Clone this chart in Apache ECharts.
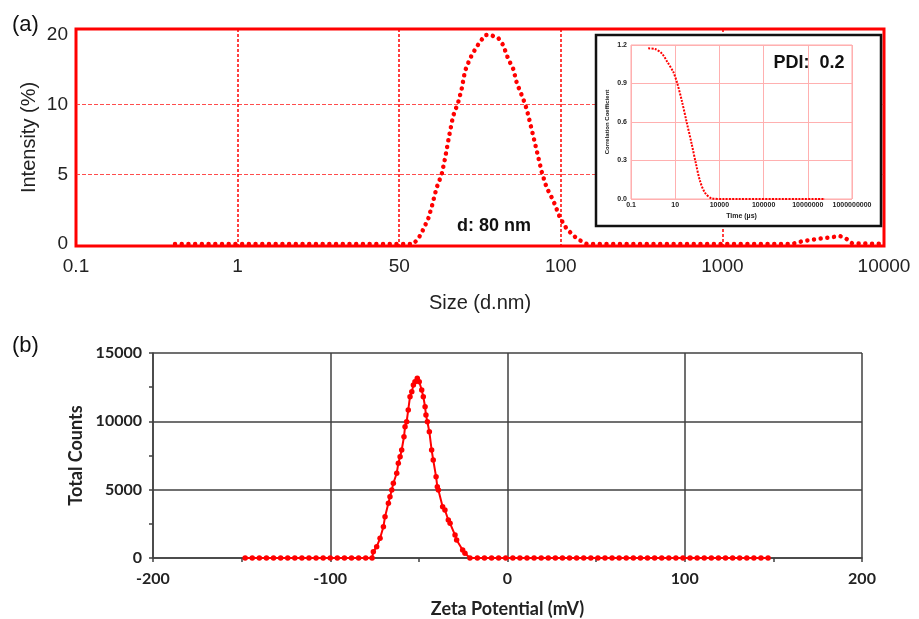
<!DOCTYPE html>
<html>
<head>
<meta charset="utf-8">
<script src="https://cdn.jsdelivr.net/npm/echarts@6/dist/echarts.min.js"></script>
<style>
  html, body { margin: 0; padding: 0; background: #fff; }
  #chart { width: 919px; height: 619px; }
</style>
</head>
<body>
<div id="chart"></div>
<script>
// (a) size distribution - axis is drawn with evenly spaced, irregular breaks
const sizeBreaks = [0.1, 1, 50, 100, 1000, 10000]
const intensityBreaks = [0, 5, 10, 20]
const sizeNm = [0.41, 53.1, 54.3, 55.5, 56.7, 57.7, 58.7, 60.0, 60.9, 61.9, 63.0, 64.4, 65.4, 66.3, 67.3, 68.2, 69.7, 72.2, 73.8,
  76.5, 78.1, 79.8, 81.6, 82.8, 85.1, 86.4, 88.3, 90.2, 92.1, 94.1, 96.8, 99.7, 108.8, 125.4, 144.6,
  2696, 3153, 4018, 4834, 5341, 5821, 6339, 10000]
const intensity = [0, 0, 0.39, 1.08, 1.87, 2.90, 4.04, 5.0, 6.19, 7.69, 9.18, 10.34, 12.34, 14.82, 16.07, 17.06, 18.31, 19.96, 20.05,
  19.55, 18.55, 16.57, 15.07, 13.09, 10.85, 9.68, 8.19, 6.69, 5.20, 4.04, 3.13, 1.87, 1.08, 0.39, 0,
  0, 0.21, 0.39, 0.5, 0.57, 0.39, 0.05, 0]

// inset correlogram
const timeBreaks = [0.1, 10, 10000, 100000, 10000000, 1000000000]
const timeUs = [0.6, 1.22, 2.45, 4.39, 8.2, 13.9, 27.6, 60.3, 131.5, 259, 482, 1052, 3006, 12246, 60000000]
const corr = [1.174, 1.169, 1.135, 1.069, 0.99, 0.90, 0.769, 0.598, 0.429, 0.272, 0.141, 0.049, 0.005, 0, 0]

// (b) zeta potential
const zetaMv = [-148, -144, -140, -136, -132, -128, -124, -120, -116, -112, -108, -104, -100, -96, -92, -88, -84, -80,
  -76.4, -75.7, -73.8, -71.9, -70.0, -69.1, -67.2, -66.3, -65.3, -64.4, -62.5, -61.6, -60.6, -59.7, -58.4, -57.8,
  -56.9, -56.0, -55.0, -54.0, -53.1, -52.2, -50.9, -49.8, -48.4, -47.5, -46.5, -46.0, -45.2, -44.1, -42.8, -41.9,
  -40.3, -39.6, -39.0, -36.6, -35.3, -33.4, -32.4, -29.6, -28.7, -25.3, -24.0, -21.2,
  -17, -13, -9, -5, -1, 3, 7, 11, 15, 19, 23, 27, 31, 35, 39, 43, 47, 51, 55, 59, 63, 67, 71, 75, 79, 83, 87,
  91, 95, 99, 103, 107, 111, 115, 119, 123, 127, 131, 135, 139, 143, 147]
const zetaCounts = [0, 0, 0, 0, 0, 0, 0, 0, 0, 0, 0, 0, 0, 0, 0, 0, 0, 0,
  0, 460, 830, 1440, 2290, 3020, 4000, 4490, 4975, 5470, 6200, 6930, 7410, 7900, 8870, 9610,
  9970, 10830, 11800, 12170, 12650, 12900, 13150, 12900, 12290, 11800, 11070, 10460, 9970, 9240, 7900, 7170,
  5950, 5220, 4975, 3750, 3510, 2780, 2540, 1680, 1320, 590, 340, 0,
  0, 0, 0, 0, 0, 0, 0, 0, 0, 0, 0, 0, 0, 0, 0, 0, 0, 0, 0, 0, 0, 0, 0, 0, 0, 0, 0,
  0, 0, 0, 0, 0, 0, 0, 0, 0, 0, 0, 0, 0, 0, 0]

// position of a value on an axis whose breaks are evenly spaced (log inside each segment)
function logSegPos(v, breaks) {
  for (let i = 0; i < breaks.length - 1; i++) {
    if (v <= breaks[i + 1] || i === breaks.length - 2) {
      return i + Math.log(v / breaks[i]) / Math.log(breaks[i + 1] / breaks[i])
    }
  }
}
// same, linear inside each segment
function linSegPos(v, breaks) {
  for (let i = 0; i < breaks.length - 1; i++) {
    if (v <= breaks[i + 1] || i === breaks.length - 2) {
      return i + (v - breaks[i]) / (breaks[i + 1] - breaks[i])
    }
  }
}

const RED = '#ff0000'
const ARIAL = 'Liberation Sans'
const CALIBRI = 'Lato'
const GREY = '#404040'

const chart = echarts.init(document.getElementById('chart'))

const option = {
  animation: false,
  backgroundColor: '#fff',
  grid: [
    { left: 76, top: 29, width: 808, height: 217, show: true, borderColor: RED, borderWidth: 3 },
    { left: 631, top: 45, width: 221, height: 154, show: true, borderColor: '#ffa8a8', borderWidth: 1, z: 4 },
    { left: 153, top: 353, width: 709, height: 205 }
  ],
  xAxis: [
    {
      gridIndex: 0, type: 'value', min: 0, max: 5, interval: 1,
      axisLine: { show: false }, axisTick: { show: false },
      axisLabel: { formatter: v => String(sizeBreaks[Math.round(v)]), fontFamily: ARIAL, fontSize: 19, color: '#222', margin: 11 },
      splitLine: { show: true, lineStyle: { color: RED, type: [3, 2], width: 1.5 } },
      name: 'Size (d.nm)', nameLocation: 'middle', nameGap: 47,
      nameTextStyle: { fontFamily: ARIAL, fontSize: 20, color: '#222' }
    },
    {
      gridIndex: 1, type: 'value', min: 0, max: 5, interval: 1, z: 4,
      axisLine: { show: false }, axisTick: { show: false },
      axisLabel: { formatter: v => String(timeBreaks[Math.round(v)]), fontFamily: ARIAL, fontWeight: 'bold', fontSize: 7, color: '#222', margin: 3 },
      splitLine: { show: true, lineStyle: { color: '#ffb0b0', width: 1 } },
      name: 'Time (µs)', nameLocation: 'middle', nameGap: 14,
      nameTextStyle: { fontFamily: ARIAL, fontWeight: 'bold', fontSize: 7, color: '#222' }
    },
    {
      gridIndex: 2, type: 'value', min: -200, max: 200, interval: 100,
      axisLine: { show: true, onZero: false, lineStyle: { color: GREY, width: 1.5 } },
      axisTick: { show: true, length: 4, lineStyle: { color: GREY, width: 1.5 } },
      minorTick: { show: true, splitNumber: 2, length: 4, lineStyle: { color: GREY, width: 1.5 } },
      axisLabel: { formatter: v => String(v), fontFamily: CALIBRI, fontWeight: 'bold', fontSize: 16, color: '#222', margin: 13 },
      splitLine: { show: true, lineStyle: { color: GREY, width: 1.5 } },
      name: 'Zeta Potential (mV)', nameLocation: 'middle', nameGap: 42,
      nameTextStyle: { fontFamily: CALIBRI, fontWeight: 'bold', fontSize: 18, color: '#222' }
    }
  ],
  yAxis: [
    {
      gridIndex: 0, type: 'value', min: -0.029, max: 3.086,
      axisLine: { show: false },
      axisTick: { show: false, customValues: [1, 2] },
      axisLabel: { customValues: [0, 1, 2, 3], formatter: v => String(intensityBreaks[Math.round(v)]), fontFamily: ARIAL, fontSize: 19, color: '#222', margin: 8 },
      splitLine: { show: true, lineStyle: { color: '#ff4d4d', type: [4, 2], width: 1 } },
      name: 'Intensity (%)', nameLocation: 'middle', nameGap: 37, nameRotate: 90, nameMoveOverlap: false,
      nameTextStyle: { fontFamily: ARIAL, fontSize: 20, color: '#222' }
    },
    {
      gridIndex: 1, type: 'value', min: 0, max: 1.2, interval: 0.3, z: 4,
      axisLine: { show: false }, axisTick: { show: false },
      axisLabel: { formatter: v => v.toFixed(1), fontFamily: ARIAL, fontWeight: 'bold', fontSize: 7, color: '#222', margin: 4 },
      splitLine: { show: true, lineStyle: { color: '#ffb0b0', width: 1 } },
      name: 'Correlation Coefficient', nameLocation: 'middle', nameGap: 21, nameRotate: 90,
      nameTextStyle: { fontFamily: ARIAL, fontWeight: 'bold', fontSize: 6, color: '#222' }
    },
    {
      gridIndex: 2, type: 'value', min: 0, max: 15000, interval: 5000,
      axisLine: { show: true, onZero: false, lineStyle: { color: GREY, width: 1.5 } },
      axisTick: { show: true, length: 4, lineStyle: { color: GREY, width: 1.5 } },
      minorTick: { show: true, splitNumber: 2, length: 4, lineStyle: { color: GREY, width: 1.5 } },
      axisLabel: { formatter: v => String(v), fontFamily: CALIBRI, fontWeight: 'bold', fontSize: 16, color: '#222', margin: 11 },
      splitLine: { show: true, lineStyle: { color: GREY, width: 1.5 } },
      name: 'Total Counts', nameLocation: 'middle', nameGap: 62, nameRotate: 90,
      nameTextStyle: { fontFamily: CALIBRI, fontWeight: 'bold', fontSize: 18, color: '#222' }
    }
  ],
  graphic: [
    { type: 'rect', z: 3, shape: { x: 596, y: 35, width: 285, height: 191 }, style: { fill: '#fff', stroke: '#111', lineWidth: 2.5 } },
    { type: 'text', z: 6, x: 12, y: 25, style: { text: '(a)', font: '22px "Liberation Sans"', fill: '#111', verticalAlign: 'middle' } },
    { type: 'text', z: 6, x: 12, y: 346, style: { text: '(b)', font: '22px "Liberation Sans"', fill: '#111', verticalAlign: 'middle' } },
    { type: 'text', z: 6, x: 494, y: 226, style: { text: 'd: 80 nm', font: 'bold 18px "Liberation Sans"', fill: '#111', align: 'center', verticalAlign: 'middle' } },
    { type: 'text', z: 6, x: 809, y: 63, style: { text: 'PDI:  0.2', font: 'bold 18px "Liberation Sans"', fill: '#111', align: 'center', verticalAlign: 'middle' } }
  ],
  series: [
    {
      type: 'line', xAxisIndex: 0, yAxisIndex: 0, z: 2,
      showSymbol: false,
      data: sizeNm.map((s, i) => [logSegPos(s, sizeBreaks), linSegPos(intensity[i], intensityBreaks)]),
      lineStyle: { color: RED, width: 4.5, type: [0.01, 6.7], cap: 'round' }
    },
    {
      type: 'line', xAxisIndex: 1, yAxisIndex: 1, z: 5,
      showSymbol: false, smooth: 0.3,
      data: timeUs.map((t, i) => [logSegPos(t, timeBreaks), corr[i]]),
      lineStyle: { color: RED, width: 2, type: [2, 1.3] }
    },
    {
      type: 'line', xAxisIndex: 2, yAxisIndex: 2,
      symbol: 'circle', symbolSize: 5.5,
      data: zetaMv.map((m, i) => [m, zetaCounts[i]]),
      itemStyle: { color: RED },
      lineStyle: { color: RED, width: 2 }
    }
  ]
}

chart.setOption(option)
</script>
</body>
</html>
